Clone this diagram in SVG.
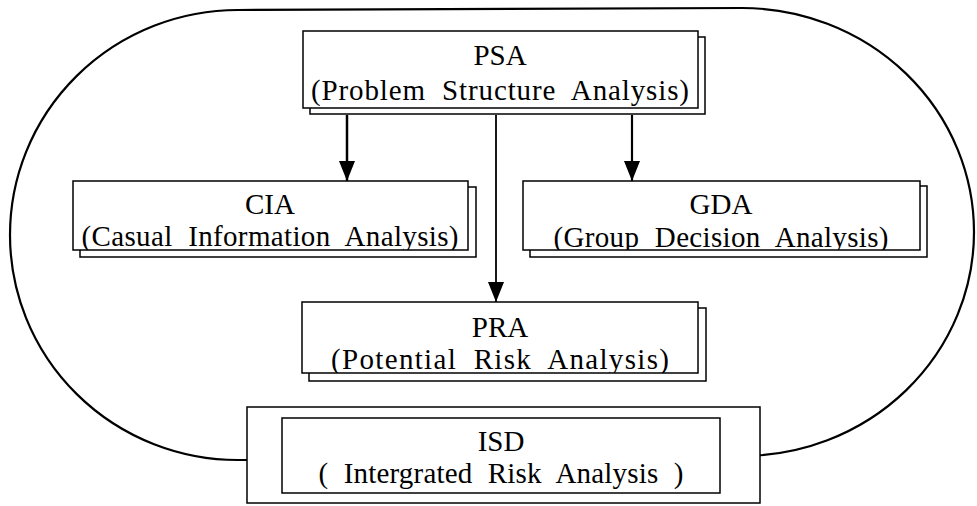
<svg xmlns="http://www.w3.org/2000/svg" width="977" height="506" viewBox="0 0 977 506">
<style>
.bg{fill:#fff}
.box{fill:#fff;stroke:#000;stroke-width:1.5}
.shadow{fill:#fff;stroke:#000;stroke-width:1.5}
.title{font-family:"Liberation Serif","DejaVu Serif",serif;font-size:29px;fill:#000;text-anchor:middle}
.sub{font-family:"Liberation Serif","DejaVu Serif",serif;font-size:29px;fill:#000;text-anchor:middle;word-spacing:8px}
.edge{fill:none;stroke:#000}
.outline{fill:none;stroke:#000;stroke-width:2.2}
</style>
<defs>
<marker id="arr" viewBox="0 0 20 16" refX="20" refY="8" markerWidth="20" markerHeight="16" markerUnits="userSpaceOnUse" orient="auto">
<path d="M0,0 L20,8 L0,16 Z" fill="#000"/>
</marker>
<clipPath id="cPSA"><rect x="303" y="31" width="395" height="77"/></clipPath>
<clipPath id="cCIA"><rect x="73" y="181" width="395" height="69"/></clipPath>
<clipPath id="cGDA"><rect x="523" y="181" width="397" height="69"/></clipPath>
<clipPath id="cPRA"><rect x="302" y="302" width="396" height="71"/></clipPath>
</defs>
<rect class="bg" x="0" y="0" width="977" height="506"/>

<g id="outline">
<path class="outline" d="M247,460 L238,460 A228 225 0 0 1 238,10 L742,8 A232 224 0 0 1 742,456 L760,455"/>
</g>

<g id="connectors">
<line class="edge" x1="347" y1="115" x2="347" y2="181" stroke-width="2.5" marker-end="url(#arr)"/>
<line class="edge" x1="496" y1="115" x2="496" y2="302" stroke-width="1.8" marker-end="url(#arr)"/>
<line class="edge" x1="632" y1="115" x2="632" y2="181" stroke-width="2.2" marker-end="url(#arr)"/>
</g>

<g id="PSA">
<rect class="shadow" x="310" y="37" width="395" height="77"/>
<rect class="box" x="303" y="31" width="395" height="77"/>
<g clip-path="url(#cPSA)">
<text class="title" x="500" y="65">PSA</text>
<text class="sub" x="500" y="100" textLength="378" lengthAdjust="spacing">(Problem Structure Analysis)</text>
</g>
</g>

<g id="CIA">
<rect class="shadow" x="80" y="187" width="396" height="70"/>
<rect class="box" x="73" y="181" width="395" height="69"/>
<g clip-path="url(#cCIA)">
<text class="title" x="270" y="214">CIA</text>
<text class="sub" x="270" y="246" textLength="377" lengthAdjust="spacing">(Casual Information Analysis)</text>
</g>
</g>

<g id="GDA">
<rect class="shadow" x="530" y="186" width="397" height="71"/>
<rect class="box" x="523" y="181" width="397" height="69"/>
<g clip-path="url(#cGDA)">
<text class="title" x="721" y="214">GDA</text>
<text class="sub" x="721" y="247" textLength="335" lengthAdjust="spacing">(Group Decision Analysis)</text>
</g>
</g>

<g id="PRA">
<rect class="shadow" x="309" y="308" width="397" height="73"/>
<rect class="box" x="302" y="302" width="396" height="71"/>
<g clip-path="url(#cPRA)">
<text class="title" x="500" y="337">PRA</text>
<text class="sub" x="500" y="369" textLength="338" lengthAdjust="spacing">(Potential Risk Analysis)</text>
</g>
</g>

<g id="ISD">
<rect class="box" x="247" y="407" width="513" height="96" stroke-width="1.2"/>
<rect class="box" x="282" y="418" width="438" height="75"/>
<text class="title" x="501" y="451">ISD</text>
<text class="sub" x="501" y="483" textLength="365" lengthAdjust="spacing">( Intergrated Risk Analysis )</text>
</g>
</svg>
